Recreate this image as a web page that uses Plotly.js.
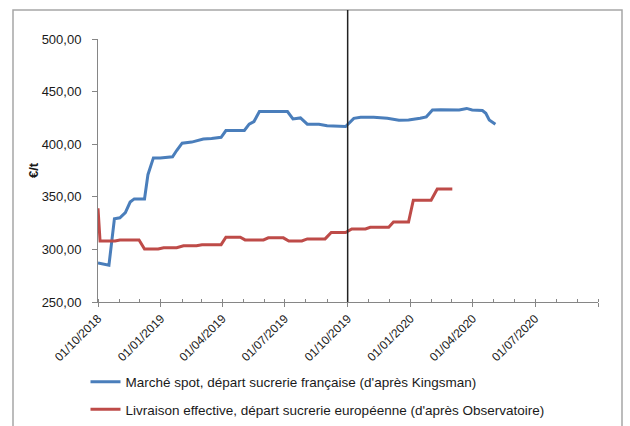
<!DOCTYPE html>
<html>
<head>
<meta charset="utf-8">
<script src="https://cdn.plot.ly/plotly-3.0.1.min.js"></script>
<style>
html,body{margin:0;padding:0;background:#fff;}
#chart{width:630px;height:426px;}
</style>
</head>
<body>
<div id="chart"></div>
<script>
// Marché spot, départ sucrerie française (d'après Kingsman)
const spotDates = ['2018-10-01','2018-10-17','2018-10-25','2018-11-02','2018-11-10','2018-11-17','2018-11-23','2018-12-08','2018-12-13','2018-12-21','2018-12-31','2019-01-18','2019-01-24','2019-02-01','2019-02-15','2019-03-04','2019-03-16','2019-03-30','2019-04-06','2019-05-03','2019-05-10','2019-05-17','2019-05-25','2019-07-05','2019-07-13','2019-07-24','2019-08-03','2019-08-20','2019-09-01','2019-09-28','2019-10-10','2019-10-20','2019-11-08','2019-11-28','2019-12-15','2019-12-29','2020-01-15','2020-01-24','2020-02-02','2020-02-14','2020-03-12','2020-03-23','2020-03-31','2020-04-15','2020-04-20','2020-04-25','2020-05-04'];
const spotValues = [287,285,329,330,335,345,348,348,371,387,387,388,394,401,402,405,405.5,406.5,413,413,419,421.5,431,431,424,425,419,419,417.6,416.8,424.6,425.6,425.6,424.6,422.7,423,424.6,426,432.5,432.8,432.5,434,432.5,432,429.4,423,419];

// Livraison effective, départ sucrerie européenne (d'après Observatoire)
const delivDates = ['2018-10-01','2018-10-04','2018-10-26','2018-11-02','2018-11-30','2018-12-08','2018-12-28','2019-01-05','2019-01-24','2019-02-03','2019-02-22','2019-03-02','2019-03-30','2019-04-06','2019-04-27','2019-05-04','2019-05-31','2019-06-07','2019-06-29','2019-07-07','2019-07-26','2019-08-03','2019-08-29','2019-09-07','2019-09-28','2019-10-07','2019-10-27','2019-11-03','2019-11-30','2019-12-07','2019-12-29','2020-01-05','2020-01-31','2020-02-09','2020-03-02'];
const delivValues = [339,308,308,309,309,300.4,300.4,301.6,301.6,303.5,303.5,304.5,304.5,311.5,311.5,309,309,311,311,308,308,310,310,316,316,319.4,319.4,321,321,326,326,346.7,346.7,357.4,357.4];

const seriesNames = ["Marché spot, départ sucrerie française (d'après Kingsman)", "Livraison effective, départ sucrerie européenne (d'après Observatoire)"];

const xTickVals = ['2018-10-01','2019-01-01','2019-04-01','2019-07-01','2019-10-01','2020-01-01','2020-04-01','2020-07-01','2020-10-01'];
const xTickText = ['01/10/2018','01/01/2019','01/04/2019','01/07/2019','01/10/2019','01/01/2020','01/04/2020','01/07/2020',''];
const markerDate = '2019-10-01';

const FONT = 'Liberation Sans, Arial, sans-serif';

const traces = [
  {x: spotDates, y: spotValues, name: seriesNames[0], type: 'scatter', mode: 'lines',
   line: {color: '#4a7ebb', width: 3}, legendgroup: 'a'},
  {x: delivDates, y: delivValues, name: seriesNames[1], type: 'scatter', mode: 'lines',
   line: {color: '#be4b48', width: 3}, legendgroup: 'b'}
];

const layout = {
  width: 630, height: 426,
  margin: {l: 98, r: 32, t: 39, b: 124, autoexpand: false},
  paper_bgcolor: '#fff', plot_bgcolor: '#fff',
  separators: ', ',
  font: {family: FONT, size: 13, color: '#1a1a1a'},
  showlegend: true,
  legend: {x: -0.025, xanchor: 'left', y: -0.245, yanchor: 'top',
           font: {family: FONT, size: 13.5, color: '#1a1a1a'},
           tracegroupgap: 7, itemwidth: 30, bgcolor: 'rgba(0,0,0,0)'},
  xaxis: {
    type: 'date', range: ['2018-10-01', '2020-10-01'], automargin: false,
    tickmode: 'array', tickvals: xTickVals, ticktext: xTickText,
    tickangle: -45, tickfont: {family: FONT, size: 12, color: '#1a1a1a'},
    showgrid: false, zeroline: false,
    showline: true, linecolor: '#868686', linewidth: 1,
    ticks: 'outside', ticklen: 4, tickcolor: '#868686',
    minor: {dtick: 'M1', tick0: '2018-10-01', ticks: 'inside', ticklen: 3, tickcolor: '#868686', showgrid: false}
  },
  yaxis: {
    range: [250, 500], tickvals: [250,300,350,400,450,500], automargin: false,
    tickformat: '.2f',
    tickfont: {family: FONT, size: 13, color: '#1a1a1a'},
    showgrid: false, zeroline: false,
    showline: true, linecolor: '#868686', linewidth: 1,
    ticks: 'outside', ticklen: 5, tickcolor: '#868686',
    ticklabelstandoff: 8,
    title: {text: '€/t', font: {family: FONT, size: 13, color: '#1a1a1a', weight: 'bold'}, standoff: 0}
  },
  shapes: [
    {type: 'rect', xref: 'paper', yref: 'paper', x0: -0.17, x1: 1.048, y0: -0.7, y1: 1.11,
     line: {color: '#a6a6a6', width: 1.5}, fillcolor: 'rgba(0,0,0,0)', layer: 'below'},
    {type: 'line', xref: 'x', yref: 'paper', x0: markerDate, x1: markerDate, y0: 0, y1: 1.11,
     line: {color: '#222', width: 1.5}}
  ]
};

Plotly.newPlot('chart', traces, layout, {staticPlot: true, displayModeBar: false});
</script>
</body>
</html>
